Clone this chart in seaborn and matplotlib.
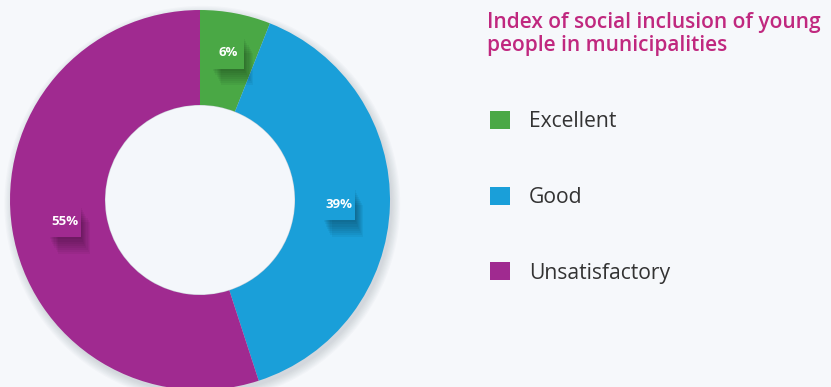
import matplotlib
matplotlib.use("Agg")
import numpy as np
import matplotlib.pyplot as plt
import matplotlib.patheffects as pe
from matplotlib.patches import Patch, Circle
import seaborn as sns

categories = ["Excellent", "Good", "Unsatisfactory"]
values = [6, 39, 55]
pct_labels = ["6%", "39%", "55%"]
colors = ["#4aa845", "#1a9fd9", "#a02a90"]
title = "Index of social inclusion of young\npeople in municipalities"

sns.set_theme(style="white")
plt.rcParams["font.family"] = ["Open Sans", "DejaVu Sans"]

W, H = 831, 387
fig = plt.figure(figsize=(W / 100, H / 100), dpi=100)
bg = "#f6f8fb"
fig.patch.set_facecolor(bg)

cx, cy, R = 200, 200, 190
ax = fig.add_axes([(cx - R) / W, (H - cy - R) / H, 2 * R / W, 2 * R / H])
ax.set_facecolor("none")

# soft shadow behind the donut
for k in range(8):
    ax.add_patch(Circle((0.012, -0.02), 1.0 + 0.006 * k, facecolor="#1b2a4a",
                        alpha=0.02, edgecolor="none", clip_on=False, zorder=0))
ax.add_patch(Circle((0, 0), 0.5, facecolor="#f4f7fb", edgecolor="#cfd5dd",
                    linewidth=0.8, zorder=0.5))

wedges, _ = ax.pie(values, colors=colors, startangle=90, counterclock=False,
                   wedgeprops=dict(width=0.5, linewidth=0, zorder=1))

label_dist = [0.79, 0.73, 0.72]
shadow = [pe.SimplePatchShadow(offset=(0.8 * k, -1.5 * k), shadow_rgbFace="#000000",
                               alpha=0.045) for k in range(1, 9)] + [pe.Normal()]
for w, lab, c, d in zip(wedges, pct_labels, colors, label_dist):
    ang = np.deg2rad((w.theta1 + w.theta2) / 2)
    x, y = d * np.cos(ang), d * np.sin(ang)
    ax.plot([x], [y], marker="s", markersize=23, color=c, markeredgewidth=0,
            zorder=3, path_effects=shadow)
    ax.text(x, y, lab, color="white", fontsize=9.5, fontweight="bold",
            ha="center", va="center", zorder=4)

ax.set_xlim(-1, 1)
ax.set_ylim(-1, 1)
ax.set_aspect("equal")
ax.axis("off")

fig.text(487 / W, 1 - 12 / H, title, color="#c0287f", fontsize=15,
         fontweight="semibold", ha="left", va="top", linespacing=1.15)

handles = [Patch(facecolor=c, edgecolor="none") for c in colors]
leg = fig.legend(handles, categories, loc="upper left",
                 bbox_to_anchor=(490 / W, 1 - 111 / H), frameon=False,
                 fontsize=15.2, labelcolor="#333333", handlelength=0.95,
                 handleheight=0.95, handletextpad=0.9, labelspacing=2.57,
                 borderaxespad=0, borderpad=0)

fig.savefig("out.png", dpi=100, facecolor=bg)
